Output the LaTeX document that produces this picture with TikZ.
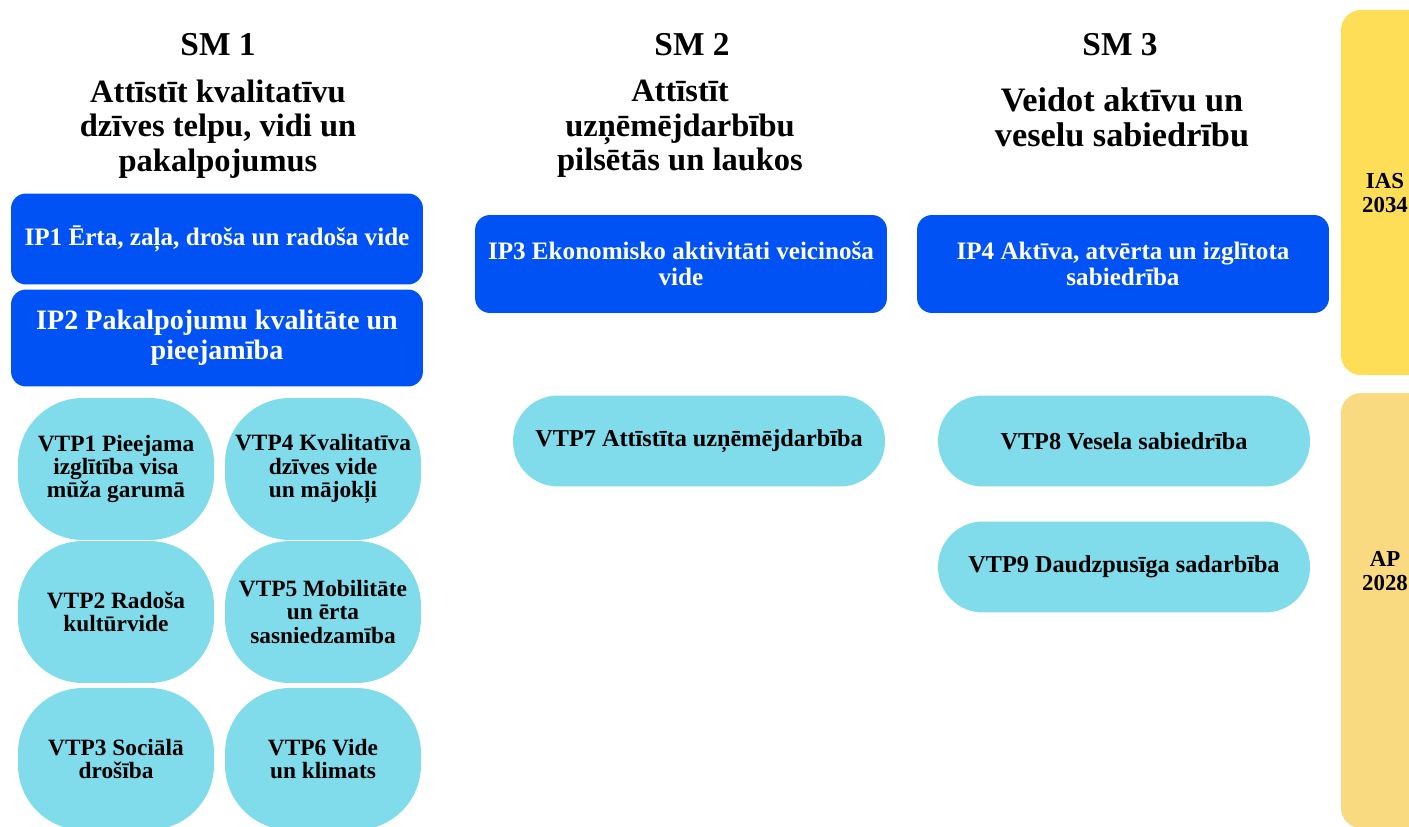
\documentclass[tikz,border=0pt]{standalone}
\usepackage{fontspec}
\setmainfont{Liberation Serif}

\definecolor{ipblue}{RGB}{0,82,245}
\definecolor{vtpcyan}{RGB}{128,219,235}
\definecolor{iasyellow}{RGB}{254,221,87}
\definecolor{apyellow}{RGB}{250,218,128}

\tikzset{
  smtitle/.style={font=\bfseries\fontsize{19}{22}\selectfont},
  smtext/.style={font=\bfseries\fontsize{18.5}{19.6}\selectfont, align=center},
  ipbox/.style={fill=ipblue, text=white, rounded corners=0.3cm, align=center,
    font=\bfseries\fontsize{14.3}{14.8}\selectfont, minimum width=8.24cm, inner sep=0pt},
  vtpoval/.style={fill=vtpcyan, rounded corners=1.3cm, align=center,
    font=\bfseries\fontsize{13.3}{13.2}\selectfont,
    minimum width=3.92cm, minimum height=2.84cm, inner sep=0pt},
  vtpwide/.style={fill=vtpcyan, rounded corners=0.9cm, align=center,
    font=\bfseries\fontsize{13.8}{14}\selectfont,
    minimum width=7.44cm, minimum height=1.82cm, inner sep=0pt},
  sidetext/.style={font=\bfseries\fontsize{13}{14}\selectfont, align=center}
}

\begin{document}
\begin{tikzpicture}[x=0.02cm, y=-0.02cm]
  \useasboundingbox (0,0) rectangle (1409,827);
  \clip (0,0) rectangle (1409,827);

  % strategic goals
  \node[smtitle] (sm1) at (218,45) {SM 1};
  \node[smtitle] (sm2) at (692,45) {SM 2};
  \node[smtitle] (sm3) at (1120,45) {SM 3};
  \node[smtext] (sm1text) at (218,129) {Attīstīt kvalitatīvu\\dzīves telpu, vidi un\\pakalpojumus};
  \node[smtext] (sm2text) at (680,129) {Attīstīt\\uzņēmējdarbību\\pilsētās un laukos};
  \node[smtext, font=\bfseries\fontsize{19.5}{20}\selectfont] (sm3text) at (1122,117) {Veidot aktīvu un\\veselu sabiedrību};

  % priorities
  \node[ipbox, minimum height=1.82cm] (ip1) at (217,239) {IP1 Ērta, zaļa, droša un radoša vide};
  \node[ipbox, minimum height=1.94cm, font=\bfseries\fontsize{16}{17}\selectfont] (ip2) at (217,338) {IP2 Pakalpojumu kvalitāte un\\pieejamība};
  \node[ipbox, minimum height=1.96cm] (ip3) at (681,264) {IP3 Ekonomisko aktivitāti veicinoša\\vide};
  \node[ipbox, minimum height=1.96cm] (ip4) at (1123,264) {IP4 Aktīva, atvērta un izglītota\\sabiedrība};

  % action lines
  \node[vtpoval] (vtp1) at (116,469) {VTP1 Pieejama\\izglītība visa\\mūža garumā};
  \node[vtpoval] (vtp4) at (323,469) {VTP4 Kvalitatīva\\dzīves vide\\un mājokļi};
  \node[vtpoval] (vtp2) at (116,612) {VTP2 Radoša\\kultūrvide};
  \node[vtpoval] (vtp5) at (323,612) {VTP5 Mobilitāte\\un ērta\\sasniedzamība};
  \node[vtpoval] (vtp3) at (116,759) {VTP3 Sociālā\\drošība};
  \node[vtpoval] (vtp6) at (323,759) {VTP6 Vide\\un klimats};
  \node[vtpwide] (vtp7) at (699,441) {VTP7 Attīstīta uzņēmējdarbība};
  \node[vtpwide] (vtp8) at (1124,441) {VTP8 Vesela sabiedrība};
  \node[vtpwide] (vtp9) at (1124,567) {VTP9 Daudzpusīga sadarbība};

  % planning documents
  \fill[iasyellow, rounded corners=0.4cm] (1341,10) rectangle (1440,375);
  \fill[apyellow, rounded corners=0.4cm] (1341,393) rectangle (1440,828);
  \node[sidetext] (ias) at (1385,193) {IAS\\2034};
  \node[sidetext] (ap) at (1385,571) {AP\\2028};

\end{tikzpicture}
\end{document}
